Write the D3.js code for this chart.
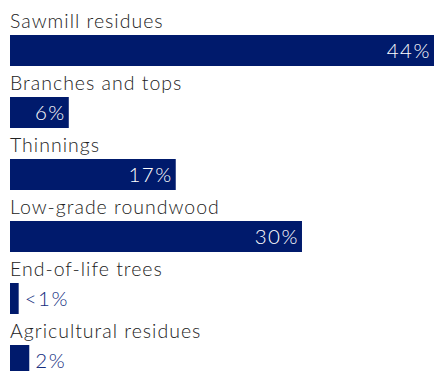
<!DOCTYPE html>
<html>
<head>
<meta charset="utf-8">
<script src="https://cdn.jsdelivr.net/npm/d3@7"></script>
<style>
  body { margin: 0; background: #fff; }
</style>
</head>
<body>
<div id="chart"></div>
<script>
// Data
const categories = ["Sawmill residues", "Branches and tops", "Thinnings", "Low-grade roundwood", "End-of-life trees", "Agricultural residues"];
const values = [44, 6.1, 17.2, 30.3, 0.9, 2];
const valueLabels = ["44%", "6%", "17%", "30%", "<1%", "2%"];

const width = 434, height = 371;
const left = 10;

const svg = d3.select("#chart")
    .append("svg")
        .attr("width", width)
        .attr("height", height);

const xScale = d3.scaleLinear()
    .domain([0, 44])
    .range([0, width - left]);

// each row = label + bar
const yScale = d3.scaleBand()
    .domain(categories)
    .range([4, 4 + 62 * categories.length]);

const row = svg.selectAll("g")
    .data(categories)
    .join("g")
    .attr("transform", d => `translate(0, ${yScale(d)})`);

// Category label
row.append("text")
    .text(d => d)
        .attr("x", left)
        .attr("y", 24)
        .style("font-family", "Lato, sans-serif")
        .style("font-weight", 300)
        .style("letter-spacing", "1px")
        .style("font-size", "19.5px")
        .style("fill", "#222");

// Bars
row.append("rect")
    .attr("x", left)
    .attr("y", 31)
    .attr("width", (d, i) => xScale(values[i]))
    .attr("height", 31)
    .attr("fill", "#001a6c");

// Value labels: inside for wide bars, outside for narrow ones
row.append("text")
    .text((d, i) => valueLabels[i])
        .attr("x", (d, i) => values[i] > 4 ? left + xScale(values[i]) - 3 : left + xScale(values[i]) + 6)
        .attr("y", 54)
        .attr("text-anchor", (d, i) => values[i] > 4 ? "end" : "start")
        .style("font-family", "Lato, sans-serif")
        .style("font-weight", 300)
        .style("letter-spacing", "1.5px")
        .style("font-size", "20.5px")
        .style("fill", (d, i) => values[i] > 4 ? "#fff" : "#142e80");
</script>
</body>
</html>
